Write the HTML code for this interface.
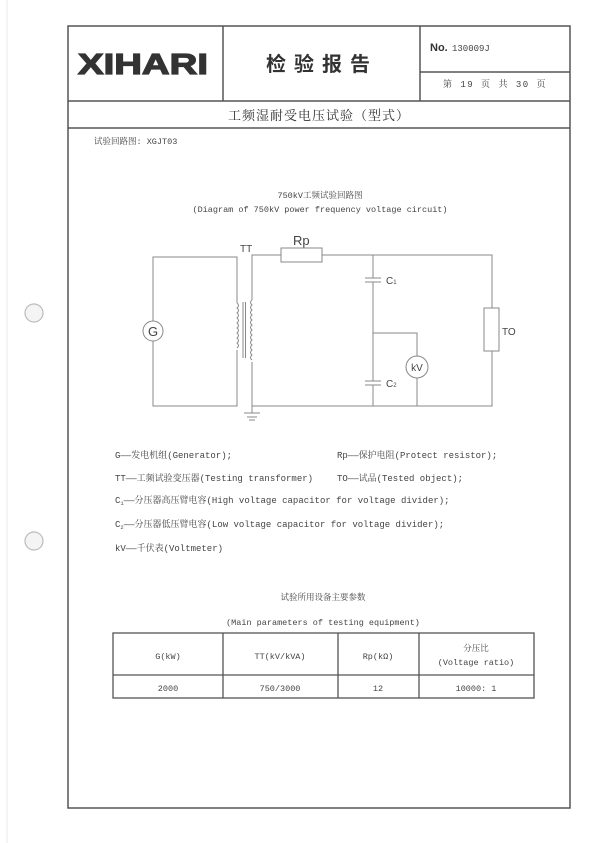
<!DOCTYPE html>
<html><head><meta charset="utf-8"><style>
body{margin:0;background:#fff;}
svg{display:block;}
</style></head><body>
<svg width="600" height="843" viewBox="0 0 600 843" xmlns="http://www.w3.org/2000/svg" font-family="Liberation Mono, 'Noto Serif CJK SC', monospace">
<line x1="7" y1="0" x2="7" y2="843" stroke="#e8e8e8" stroke-width="1"/>
<circle cx="34" cy="313" r="9" fill="#f4f4f4" stroke="#bbb" stroke-width="1.2"/>
<circle cx="34" cy="541" r="9" fill="#f4f4f4" stroke="#bbb" stroke-width="1.2"/>
<g stroke="#555" stroke-width="1.5" fill="none">
<rect x="68" y="26" width="502" height="782"/>
<line x1="68" y1="101" x2="570" y2="101"/>
<line x1="68" y1="128" x2="570" y2="128"/>
<line x1="223" y1="26" x2="223" y2="101"/>
<line x1="420" y1="26" x2="420" y2="101"/>
<line x1="420" y1="72" x2="570" y2="72"/>
</g>
<text x="78" y="74" font-family="Liberation Sans, sans-serif" font-weight="bold" font-size="29" fill="#333" stroke="#333" stroke-width="1.2" textLength="130" lengthAdjust="spacingAndGlyphs">XIHARI</text>
<text x="322" y="71" font-family="'Noto Sans CJK SC', sans-serif" font-weight="bold" font-size="20" fill="#333" text-anchor="middle" letter-spacing="8">检验报告</text>
<text x="430" y="51" font-family="Liberation Sans, sans-serif" font-weight="bold" font-size="11" fill="#333">No.</text>
<text x="452" y="51" font-size="9" fill="#444">130009J</text>
<text x="495" y="87" font-size="9" fill="#444" text-anchor="middle" letter-spacing="1.5">第 19 页 共 30 页</text>
<text x="319" y="120" font-family="Liberation Serif, 'Noto Serif CJK SC', serif" font-size="13" fill="#333" text-anchor="middle" letter-spacing="1">工频湿耐受电压试验（型式）</text>
<text x="94" y="144" font-size="8.5" fill="#444">试验回路图: XGJT03</text>
<text x="320" y="198" font-size="8.5" fill="#444" text-anchor="middle">750kV工频试验回路图</text>
<text x="320" y="212" font-size="8.5" fill="#444" text-anchor="middle">(Diagram of 750kV power frequency voltage circuit)</text>
<g stroke="#888" stroke-width="1" fill="none">
<polyline points="237,303 237,257 153,257 153,406 237,406 237,350"/>
<polyline points="252,300 252,255 281,255"/>
<rect x="281" y="248" width="41" height="14" fill="#fff"/>
<polyline points="322,255 492,255 492,308"/>
<rect x="484" y="308" width="15" height="43" fill="#fff"/>
<polyline points="492,351 492,406 252,406 252,362"/>
<line x1="252" y1="406" x2="252" y2="413"/>
<line x1="244" y1="413" x2="260" y2="413"/>
<line x1="247" y1="417" x2="257" y2="417"/>
<line x1="249" y1="420" x2="255" y2="420"/>
<line x1="373" y1="255" x2="373" y2="278"/>
<line x1="365" y1="278" x2="381" y2="278"/>
<line x1="365" y1="282" x2="381" y2="282"/>
<line x1="373" y1="282" x2="373" y2="381"/>
<line x1="365" y1="381" x2="381" y2="381"/>
<line x1="365" y1="385" x2="381" y2="385"/>
<line x1="373" y1="385" x2="373" y2="406"/>
<polyline points="373,333 417,333 417,356"/>
<line x1="417" y1="378" x2="417" y2="406"/>
<circle cx="417" cy="367" r="11" fill="#fff"/>
<circle cx="153" cy="331" r="10" fill="#fff"/>
<line x1="243" y1="302" x2="243" y2="358"/>
<line x1="245.5" y1="302" x2="245.5" y2="358"/>
<path d="M237,303 q3,2.5 0,5 q3,2.5 0,5 q3,2.5 0,5 q3,2.5 0,5 q3,2.5 0,5 q3,2.5 0,5 q3,2.5 0,5 q3,2.5 0,5 q3,2.5 0,5"/>
<path d="M252,300 q-3,2.5 0,5 q-3,2.5 0,5 q-3,2.5 0,5 q-3,2.5 0,5 q-3,2.5 0,5 q-3,2.5 0,5 q-3,2.5 0,5 q-3,2.5 0,5 q-3,2.5 0,5 q-3,2.5 0,5 q-3,2.5 0,5 q-3,2.5 0,5"/>
</g>
<g font-family="Liberation Sans, sans-serif" fill="#444">
<text x="153" y="336" font-size="13" text-anchor="middle">G</text>
<text x="417" y="371" font-size="10" text-anchor="middle">kV</text>
<text x="240" y="252" font-size="10">TT</text>
<text x="293" y="245" font-size="13">Rp</text>
<text x="386" y="284" font-size="10">C<tspan font-size="6">1</tspan></text>
<text x="386" y="387" font-size="10">C<tspan font-size="6">2</tspan></text>
<text x="502" y="335" font-size="10">TO</text>
</g>
<g font-size="9" fill="#444">
<text x="115" y="458">G——发电机组(Generator);</text>
<text x="337" y="458">Rp——保护电阻(Protect resistor);</text>
<text x="115" y="481">TT——工频试验变压器(Testing transformer)</text>
<text x="337" y="481">TO——试品(Tested object);</text>
<text x="115" y="503">C<tspan font-size="5.5" dy="2">1</tspan><tspan dy="-2">——分压器高压臂电容(High voltage capacitor for voltage divider);</tspan></text>
<text x="115" y="527">C<tspan font-size="5.5" dy="2">2</tspan><tspan dy="-2">——分压器低压臂电容(Low voltage capacitor for voltage divider);</tspan></text>
<text x="115" y="551">kV——千伏表(Voltmeter)</text>
</g>
<g font-size="8.5" fill="#444">
<text x="323" y="600" text-anchor="middle">试验所用设备主要参数</text>
<text x="323" y="625" text-anchor="middle">(Main parameters of testing equipment)</text>
</g>
<g stroke="#555" stroke-width="1.3" fill="none">
<rect x="113" y="633" width="421" height="65"/>
<line x1="113" y1="675" x2="534" y2="675"/>
<line x1="223" y1="633" x2="223" y2="698"/>
<line x1="338" y1="633" x2="338" y2="698"/>
<line x1="419" y1="633" x2="419" y2="698"/>
</g>
<g font-size="8.5" fill="#444" text-anchor="middle">
<text x="168" y="659">G(kW)</text>
<text x="280" y="659">TT(kV/kVA)</text>
<text x="378" y="659">Rp(kΩ)</text>
<text x="476" y="651">分压比</text>
<text x="476" y="665">(Voltage ratio)</text>
<text x="168" y="691">2000</text>
<text x="280" y="691">750/3000</text>
<text x="378" y="691">12</text>
<text x="476" y="691">10000: 1</text>
</g>
</svg>
</body></html>
